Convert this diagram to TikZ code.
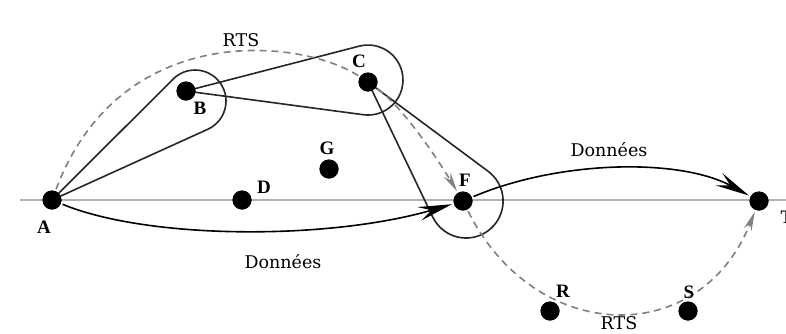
\documentclass[tikz,border=0pt]{standalone}
\usepackage{fontspec}
\setmainfont{DejaVu Serif}
\newfontfamily\lblfont{Liberation Serif}
\usetikzlibrary{arrows.meta}
\begin{document}
\begin{tikzpicture}[x=1pt,y=1pt,
  dot/.style={circle,fill=black,minimum size=19pt,inner sep=0pt,outer sep=2pt},
  lbl/.style={font={\fontsize{19}{19}\lblfont\bfseries\selectfont},inner sep=0pt},
  txt/.style={font=\fontsize{17.5}{17.5}\selectfont,inner sep=0pt},
  hull/.style={draw=black!85,line width=1.6pt,line join=round},
  data/.style={draw=black,line width=1.6pt,-{Stealth[length=34pt,width=14pt,inset=13pt]}},
  rts/.style={draw=black!50,line width=1.6pt,dash pattern=on 7pt off 5pt,-{Stealth[length=19pt,width=8pt,inset=6pt]}},
  rtsplain/.style={draw=black!50,line width=1.6pt,dash pattern=on 7pt off 5pt},
  axisline/.style={draw=black!30,line width=1.6pt}]
\clip (0,0) rectangle (786,-333);
\fill[white] (0,0) rectangle (786,-333);
% axis
\coordinate (L0) at (20,-200);
\coordinate (L1) at (790,-200);
\draw[axisline] (L0) -- (L1);
% dots
\path (52,-200) coordinate (pA) (186,-91) coordinate (pB) (368,-82) coordinate (pC)
      (242,-200) coordinate (pD) (329,-169) coordinate (pG) (463,-201) coordinate (pF)
      (759,-201) coordinate (pT) (550,-311) coordinate (pR) (688,-311) coordinate (pS);
\node[dot] (A) at (pA) {};
\node[dot] (B) at (pB) {};
\node[dot] (C) at (pC) {};
\node[dot] (D) at (pD) {};
\node[dot] (G) at (pG) {};
\node[dot] (F) at (pF) {};
\node[dot] (T) at (pT) {};
\node[dot] (R) at (pR) {};
\node[dot] (S) at (pS) {};
% hulls
\draw[hull] (A.center) -- (173.1,-79.1) arc[start angle=135,end angle=-65.6,radius=31] -- cycle;
\draw[hull] (B.center) -- (359.4,-46.1) arc[start angle=104.21,end angle=-97.92,radius=35] -- cycle;
\draw[hull] (C.center) -- (488.0,-171.2) arc[start angle=53.67,end angle=-154.25,radius=37] -- cycle;
% RTS dashed
\draw[rtsplain] (A) .. controls (120,-20) and (300,-38) .. (C);
\draw[rts] (C) .. controls (400,-105) and (432,-150) .. (F);
\draw[rts] (F) .. controls (535,-345) and (700,-350) .. (T);
% data arrows
\draw[data] (A) .. controls (150,-240) and (330,-240) .. (F);
\draw[data] (F) .. controls (560,-160) and (680,-158) .. (T);
% dots on top
\foreach \p in {pA,pB,pC,pD,pG,pF,pT,pR,pS} \fill[black] (\p) circle[radius=9.5pt];
% labels
\node[lbl] (lA) at (44,-227) {A};
\node[lbl] (lB) at (200,-108) {B};
\node[lbl] (lC) at (359,-61) {C};
\node[lbl] (lD) at (264,-187) {D};
\node[lbl] (lG) at (327,-148) {G};
\node[lbl] (lF) at (465,-180) {F};
\node[lbl] (lT) at (787,-217) {T};
\node[lbl] (lR) at (563,-291) {R};
\node[lbl] (lS) at (689,-292) {S};
\node[txt] (t1) at (241,-40) {RTS};
\node[txt] (t2) at (609,-150) {Données};
\node[txt] (t3) at (283,-262) {Données};
\node[txt] (t4) at (619,-323) {RTS};
\end{tikzpicture}
\end{document}
